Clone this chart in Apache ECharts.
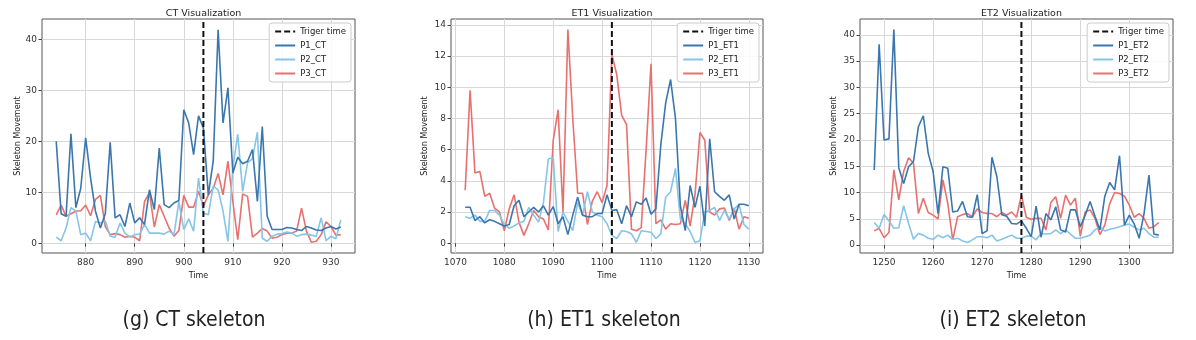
<!DOCTYPE html>
<html>
<head>
<meta charset="utf-8">
<script src="https://cdn.jsdelivr.net/npm/echarts@6/dist/echarts.min.js"></script>
<style>
  html, body { margin: 0; padding: 0; background: #fff; }
  #main { width: 1196px; height: 340px; }
</style>
</head>
<body>
<div id="main"></div>
<script>
// ---- CT ----
const ctTime = [874,875,876,877,878,879,880,881,882,883,884,885,886,887,888,889,890,891,892,893,894,895,896,897,898,899,900,901,902,903,
  904,905,906,907,908,909,910,911,912,913,914,915,916,917,918,919,920,921,922,923,924,925,926,927,928,929,930,931,932];
const ctP1 = [20.0,5.8,5.3,21.5,7.0,10.8,20.7,12.8,6.3,3.0,5.8,19.8,5.0,5.6,3.3,7.9,4.0,5.0,3.7,10.5,6.6,18.7,7.6,7.0,7.9,8.4,26.2,23.6,17.4,25.0,
  22.6,9.5,16.1,41.9,23.6,30.5,13.8,16.9,15.6,16.1,18.4,8.2,22.9,5.3,2.7,2.7,2.7,3.1,3.0,2.7,2.5,3.3,3.0,2.6,2.5,3.0,3.3,2.8,3.2];
const ctP2 = [1.2,0.5,3.0,7.0,6.3,1.7,2.0,0.5,4.3,4.0,4.4,1.4,1.2,4.0,2.0,1.2,1.7,1.8,3.7,2.0,2.0,2.0,1.8,2.4,1.7,8.2,2.7,4.8,2.4,12.8,
  5.9,5.6,11.2,10.5,6.3,0.4,14.8,21.4,10.2,15.8,16.6,21.8,1.0,0.4,1.4,1.8,1.9,2.2,2.0,1.4,1.7,1.8,1.6,1.4,5.0,0.5,1.4,0.9,4.6];
const ctP3 = [5.6,7.5,5.3,5.8,6.3,6.4,7.5,5.4,8.6,9.4,3.3,1.7,1.9,1.7,1.2,1.4,1.2,0.5,8.2,9.9,3.2,7.6,5.3,3.0,1.4,2.5,9.4,7.1,7.1,10.2,
  7.3,9.5,10.8,13.7,9.5,16.1,8.2,0.7,9.7,9.2,1.2,2.0,2.9,2.4,1.0,1.2,1.7,2.0,2.0,2.4,6.9,2.4,0.2,0.4,1.7,4.2,3.3,1.6,1.7];
const ctTrigger = 904;
const ctXTicks = [880,890,900,910,920,930];
const ctYTicks = [0,10,20,30,40];

// ---- ET1 ----
const et1Time = [1072,1073,1074,1075,1076,1077,1078,1079,1080,1081,1082,1083,1084,1085,1086,1087,1088,1089,1090,1091,1092,1093,1094,1095,1096,1097,
  1098,1099,1100,1101,1102,1103,1104,1105,1106,1107,1108,1109,1110,1111,1112,1113,1114,1115,1116,1117,1118,1119,1120,1121,1122,1123,1124,1125,1126,1127,1128,1129,1130];
const et1P1 = [2.3,2.3,1.45,1.7,1.3,1.5,1.4,1.25,1.1,1.2,2.4,2.75,1.7,2.0,2.3,2.0,2.4,1.8,2.35,1.25,1.7,0.55,1.8,2.95,1.8,1.7,
  1.7,1.9,1.9,3.1,2.1,2.15,1.25,2.4,1.7,2.65,2.5,2.9,1.85,2.2,6.3,9.0,10.5,8.0,2.4,0.8,3.7,2.3,3.65,1.1,6.7,3.3,3.0,2.75,3.1,1.55,2.5,2.5,2.4];
const et1P2 = [1.7,1.6,1.8,1.4,1.4,2.1,2.1,1.8,1.2,0.95,1.1,1.3,1.4,2.3,1.8,1.35,2.6,5.4,5.5,0.75,2.0,1.4,0.8,2.6,1.8,3.3,
  2.0,1.8,1.7,1.25,0.5,0.3,0.8,0.75,0.6,0.05,0.8,0.75,0.7,0.3,0.6,2.95,3.3,4.8,1.55,1.25,0.75,0.05,0.15,2.0,2.1,2.3,1.45,2.1,1.55,2.2,2.5,1.2,0.9];
const et1P3 = [3.4,9.8,4.5,4.6,3.0,3.2,2.25,2.0,0.8,2.2,3.1,1.35,0.5,1.25,2.1,1.7,1.55,0.85,6.6,8.55,2.0,13.7,8.0,3.2,3.2,1.2,
  2.7,3.3,2.6,3.7,12.1,10.8,8.2,7.6,0.9,0.8,1.0,6.0,11.5,1.25,1.5,0.9,1.25,1.2,1.25,2.75,1.1,3.1,7.1,6.6,2.0,1.8,2.2,2.25,1.45,2.25,0.9,1.7,1.6];
const et1Trigger = 1102;
const et1XTicks = [1070,1080,1090,1100,1110,1120,1130];
const et1YTicks = [0,2,4,6,8,10,12,14];

// ---- ET2 ----
const et2Time = [1248,1249,1250,1251,1252,1253,1254,1255,1256,1257,1258,1259,1260,1261,1262,1263,1264,1265,1266,1267,1268,1269,1270,1271,1272,
  1273,1274,1275,1276,1277,1278,1279,1280,1281,1282,1283,1284,1285,1286,1287,1288,1289,1290,1291,1292,1293,1294,1295,1296,1297,1298,1299,1300,1301,1302,1303,1304,1305,1306];
const et2P1 = [14.3,38.2,20.0,20.2,41.0,14.7,11.7,14.9,15.9,22.5,24.6,17.5,14.0,6.0,14.9,14.6,6.3,6.5,8.3,5.4,5.3,9.6,2.2,2.7,16.7,
  13.0,5.8,5.5,4.1,4.0,4.6,3.2,1.6,7.4,1.5,6.0,4.8,7.3,2.9,2.5,6.7,6.7,3.5,5.7,8.3,5.5,2.9,9.3,11.9,10.5,17.0,3.8,5.7,4.0,1.3,6.0,13.3,2.1,1.9];
const et2P2 = [4.3,3.2,5.8,4.6,3.2,3.3,7.5,4.1,1.1,2.2,1.9,1.3,1.1,1.9,1.4,1.9,1.1,1.3,0.8,0.5,1.0,1.6,1.6,1.4,1.9,
  0.8,1.1,1.5,1.9,1.3,1.3,1.7,1.7,1.0,2.2,2.1,2.2,2.9,2.2,2.9,2.1,1.3,1.3,1.6,1.9,2.9,3.5,2.7,3.0,3.2,3.5,3.8,4.0,3.4,2.9,3.2,2.2,1.5,1.5];
const et2P3 = [2.7,3.2,1.4,2.4,14.3,8.6,14.0,16.6,15.6,6.0,8.9,6.2,5.7,5.0,12.4,7.9,1.0,5.4,5.8,6.0,5.4,6.9,6.2,6.0,6.0,
  5.4,6.2,5.7,6.3,5.3,9.5,5.3,4.9,5.1,5.1,2.9,8.1,9.2,5.1,9.5,7.6,8.9,1.7,6.3,6.7,5.1,2.0,3.8,7.9,10.0,9.8,9.3,7.6,5.3,6.0,5.1,3.2,3.5,4.3];
const et2Trigger = 1278;
const et2XTicks = [1250,1260,1270,1280,1290,1300];
const et2YTicks = [0,5,10,15,20,25,30,35,40];

// 布局 (像素) —— 与数据分开
const FONT = 'DejaVu Sans, sans-serif';
const CAPTION_FONT = 'DejaVu Sans Condensed, Liberation Sans Narrow, Liberation Sans, sans-serif';
const COLORS = ['#3b76ae', '#86c5e6', '#e6716f'];
const panels = [
  { tag: 'CT',  title: 'CT Visualization',  caption: '(g) CT skeleton',  time: ctTime,  ys: [ctP1, ctP2, ctP3],    trig: ctTrigger,  xTicks: ctXTicks,  yTicks: ctYTicks,
    xr: [871.1, 934.9], yr: [-1.9, 44.0], left: 42, width: 313, capX: 189, yGap: 20 },
  { tag: 'ET1', title: 'ET1 Visualization', caption: '(h) ET1 skeleton', time: et1Time, ys: [et1P1, et1P2, et1P3], trig: et1Trigger, xTicks: et1XTicks, yTicks: et1YTicks,
    xr: [1069.1, 1132.9], yr: [-0.63, 14.38], left: 451, width: 312, capX: 599, yGap: 22 },
  { tag: 'ET2', title: 'ET2 Visualization', caption: '(i) ET2 skeleton', time: et2Time, ys: [et2P1, et2P2, et2P3], trig: et2Trigger, xTicks: et2XTicks, yTicks: et2YTicks,
    xr: [1245.1, 1308.9], yr: [-1.5, 43.0], left: 860, width: 313, capX: 1008, yGap: 22 }
];
const TOP = 19, HEIGHT = 234;

const grid = [], xAxis = [], yAxis = [], series = [], legend = [], title = [];
const plain = function (v) { return String(v); };

panels.forEach(function (p, i) {
  grid.push({ left: p.left, top: TOP, width: p.width, height: HEIGHT, show: true,
    borderColor: '#555', borderWidth: 1, backgroundColor: 'transparent' });

  xAxis.push({
    type: 'value', gridIndex: i, min: p.xr[0], max: p.xr[1],
    name: 'Time', nameLocation: 'middle', nameGap: 18,
    nameTextStyle: { fontFamily: FONT, fontSize: 8, color: '#222' },
    axisLine: { show: false },
    axisTick: { show: true, length: 3.5, customValues: p.xTicks, lineStyle: { color: '#444' } },
    axisLabel: { customValues: p.xTicks, formatter: plain, fontFamily: FONT, fontSize: 9, color: '#333', margin: 5 },
    splitLine: { show: true, lineStyle: { color: '#d8d8d8', width: 1 } }
  });

  yAxis.push({
    type: 'value', gridIndex: i, min: p.yr[0], max: p.yr[1],
    name: 'Skeleton Movement', nameLocation: 'middle', nameGap: p.yGap, nameRotate: 90,
    nameTextStyle: { fontFamily: FONT, fontSize: 8, color: '#222' },
    axisLine: { show: false },
    axisTick: { show: true, length: 3.5, customValues: p.yTicks, lineStyle: { color: '#444' } },
    axisLabel: { customValues: p.yTicks, formatter: plain, fontFamily: FONT, fontSize: 9, color: '#333', margin: 5 },
    splitLine: { show: true, lineStyle: { color: '#d8d8d8', width: 1 } }
  });

  const names = ['P1_' + p.tag, 'P2_' + p.tag, 'P3_' + p.tag];
  p.ys.forEach(function (vals, k) {
    series.push({
      name: names[k], type: 'line', xAxisIndex: i, yAxisIndex: i,
      data: p.time.map(function (t, j) { return [t, vals[j]]; }),
      symbol: 'none', smooth: false, animation: false, z: 3 + (k === 0 ? 2 : k === 1 ? 1 : 0),
      lineStyle: { color: COLORS[k], width: 1.6 },
      itemStyle: { color: COLORS[k] }
    });
  });

  // 触发时刻虚线 (贯穿整个 y 范围)
  series.push({
    name: 'Triger time', type: 'line', xAxisIndex: i, yAxisIndex: i,
    data: [[p.trig, p.yr[0]], [p.trig, p.yr[1]]],
    symbol: 'none', animation: false, z: 6,
    lineStyle: { color: '#111', width: 2, type: [6, 3] },
    itemStyle: { color: '#111' }
  });

  legend.push({
    orient: 'vertical', top: 23, right: 1196 - (p.left + p.width) + 4,
    itemWidth: 20, itemHeight: 8, itemGap: 5, padding: [4, 5],
    backgroundColor: 'rgba(255,255,255,0.85)', borderColor: '#ccc', borderWidth: 1, borderRadius: 3,
    itemStyle: { opacity: 0 },
    textStyle: { fontFamily: FONT, fontSize: 8.5, color: '#222' },
    data: ['Triger time'].concat(names)
  });

  title.push({
    text: p.title, left: p.left + p.width / 2, top: 4, textAlign: 'center',
    textStyle: { fontFamily: FONT, fontSize: 9.5, fontWeight: 'normal', color: '#222' }
  });
  title.push({
    text: p.caption, left: p.capX, top: 305, textAlign: 'center',
    textStyle: { fontFamily: CAPTION_FONT, fontSize: 21, fontWeight: 'normal', color: '#222' }
  });
});

const chart = echarts.init(document.getElementById('main'), null, { renderer: 'canvas' });
chart.setOption({
  backgroundColor: '#fff',
  animation: false,
  title: title,
  grid: grid,
  xAxis: xAxis,
  yAxis: yAxis,
  legend: legend,
  series: series
});
</script>
</body>
</html>
